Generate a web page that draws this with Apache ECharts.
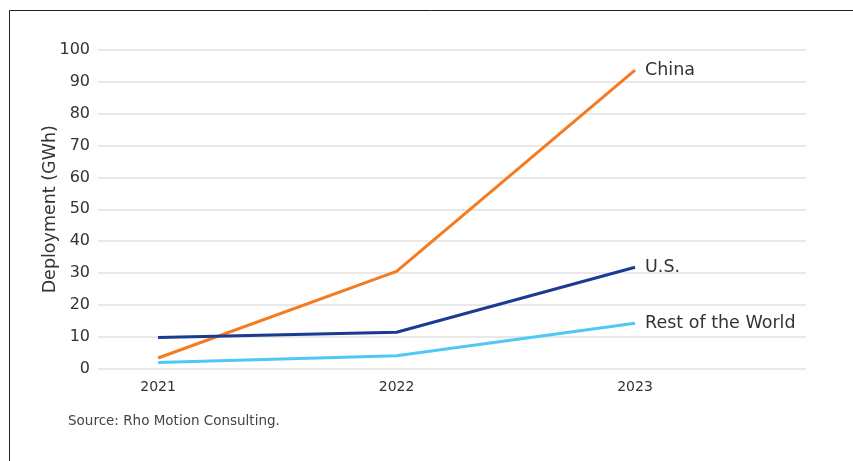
<!DOCTYPE html>
<html>
<head>
<meta charset="utf-8">
<script src="https://cdn.jsdelivr.net/npm/echarts@6/dist/echarts.min.js"></script>
<style>
  html, body { margin: 0; padding: 0; background: #fff; }
  #chart { width: 853px; height: 461px; }
</style>
</head>
<body>
<div id="chart"></div>
<script>
// Battery storage deployment by region, GWh
const years = [2021, 2022, 2023];
const china = [3.3, 30.5, 93.7];
const us = [9.7, 11.4, 31.8];
const restOfWorld = [1.9, 4.0, 14.2];
const yTicks = [0, 10, 20, 30, 40, 50, 60, 70, 80, 90, 100];

const FONT = '"DejaVu Sans", sans-serif';
const TEXT = '#333';

function pairs(values) {
  return years.map((y, i) => [y, values[i]]);
}

function lineSeries(name, values, color) {
  return {
    name: name,
    type: 'line',
    data: pairs(values),
    symbol: 'none',
    lineStyle: { color: color, width: 3 },
    itemStyle: { color: color },
    endLabel: {
      show: true,
      formatter: '{a}',
      distance: 10,
      color: TEXT,
      fontSize: 17.5,
      fontFamily: FONT
    },
    animation: false
  };
}

const chart = echarts.init(document.getElementById('chart'), null, { renderer: 'canvas' });
chart.setOption({
  backgroundColor: '#fff',
  animation: false,
  grid: { left: 98, right: 47, top: 50, bottom: 92.5 },
  xAxis: {
    type: 'value',
    min: 2020.748,
    max: 2023.717,
    axisLine: { show: false },
    axisTick: { show: false },
    splitLine: { show: false },
    axisLabel: {
      customValues: years,
      formatter: v => String(v),
      color: TEXT,
      fontSize: 14,
      fontFamily: FONT,
      margin: 12
    }
  },
  yAxis: {
    type: 'value',
    min: 0,
    max: 100,
    interval: 10,
    name: 'Deployment (GWh)',
    nameLocation: 'middle',
    nameGap: 39,
    nameMoveOverlap: false,
    nameTextStyle: { color: TEXT, fontSize: 17.5, fontFamily: FONT },
    axisLine: { show: false },
    axisTick: { show: false },
    splitLine: { lineStyle: { color: '#e8e8e8', width: 2 } },
    axisLabel: {
      customValues: yTicks,
      color: TEXT,
      fontSize: 16,
      fontFamily: FONT,
      margin: 8
    }
  },
  series: [
    lineSeries('China', china, '#F47B20'),
    lineSeries('U.S.', us, '#1B3B93'),
    lineSeries('Rest of the World', restOfWorld, '#4FC8F4')
  ],
  graphic: [
    {
      type: 'rect',
      shape: { x: 9.5, y: 10.5, width: 900, height: 500 },
      style: { fill: 'none', stroke: '#222', lineWidth: 1 },
      silent: true
    },
    {
      type: 'text',
      left: 68,
      top: 414,
      style: {
        text: 'Source: Rho Motion Consulting.',
        fill: '#444',
        fontSize: 13.5,
        fontFamily: FONT
      }
    }
  ]
});
</script>
</body>
</html>
